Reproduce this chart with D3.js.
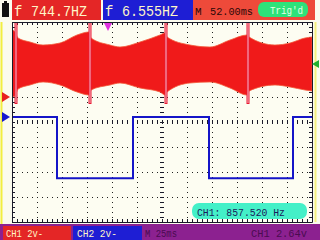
<!DOCTYPE html>
<html>
<head>
<meta charset="utf-8">
<script src="https://cdn.jsdelivr.net/npm/d3@7"></script>
<style>
  body { margin: 0; background: #fbfbee; }
  svg { display: block; }
  text { font-family: "Liberation Mono", monospace; }
</style>
</head>
<body>
<div class="chart-container"></div>
<script>
// CH1 envelope, time in ms from left edge, volts (2v/div)
const envTime  = [0, 3, 6, 18, 31, 48, 65, 77, 79, 98, 108, 128, 148, 153, 155, 178, 198, 218, 235, 237, 263, 278, 293, 300];
const envUpper = [5.36, 5.2, 4.72, 4.4, 4.16, 4.32, 4.96, 5.2, 4.72, 4.16, 4.0, 4.4, 4.96, 5.12, 4.8, 4.16, 4.0, 4.56, 4.96, 4.8, 4.16, 4.32, 4.72, 4.8];
const envLower = [0, 0.08, 0.64, 0.96, 1.2, 0.96, 0.4, 0.16, 0.56, 0.96, 1.12, 0.72, 0.4, 0.16, 0.4, 1.12, 1.2, 0.72, 0.16, 0.48, 0.96, 0.8, 0.56, 0.48];
// glitches in CH1
const spikeTime = [4, 78, 154, 236];
const spikeLow = -0.56, spikeHigh = 6.4;

// CH2 square wave
const ch2Time  = [0, 45, 121, 197, 281, 300];
const ch2Level = [0, -4.9, 0, -4.9, 0, 0];

// readouts
const ch1Freq = "744.7HZ", ch2Freq = "6.555HZ";
const trigDelay = "52.00ms", timeBase = "25ms";
const trigLevel = 2.64, trigTime = 96;
const ch1Measure = "CH1: 857.520 Hz";
const channelLabels = ["CH1 2v-", "CH2 2v-"];
const ch1Pos = 1, ch2Pos = 0.2; // ground offsets in divisions

const W = 320, H = 240;
const grid = { left: 12, top: 22, right: 312, bottom: 222 };

const svg = d3.select(".chart-container")
  .append("svg")
    .attr("width", W)
    .attr("height", H);

const x = d3.scaleLinear().domain([0, 300]).range([grid.left, grid.right]);
const yDiv = d3.scaleLinear().domain([-4, 4]).range([grid.bottom, grid.top]);
const ch1Y = d3.scaleLinear().domain([-8 - 2 * ch1Pos, 8 - 2 * ch1Pos]).range([grid.bottom, grid.top]);
const ch2Y = d3.scaleLinear().domain([-8 - 2 * ch2Pos, 8 - 2 * ch2Pos]).range([grid.bottom, grid.top]);

// side rails
svg.append("line").attr("x1", 1.5).attr("x2", 1.5).attr("y1", 22).attr("y2", 224)
  .attr("stroke", "#f2ee40").attr("stroke-width", 2);
svg.append("line").attr("x1", 315.5).attr("x2", 315.5).attr("y1", 22).attr("y2", 222)
  .attr("stroke", "#f4f080").attr("stroke-width", 2);

// plot area
svg.append("rect")
  .attr("x", grid.left).attr("y", grid.top)
  .attr("width", grid.right - grid.left).attr("height", grid.bottom - grid.top)
  .attr("fill", "#fdfdf2");

const gGrid = svg.append("g").attr("stroke", "#222").attr("stroke-width", 1);
// dotted division lines
gGrid.selectAll(".vdot")
  .data(d3.range(25, 300, 25).filter(d => d !== 150))
  .join("line")
    .attr("x1", d => Math.round(x(d)) + 0.5).attr("x2", d => Math.round(x(d)) + 0.5)
    .attr("y1", grid.top).attr("y2", grid.bottom)
    .attr("stroke-dasharray", "1,4");
gGrid.selectAll(".hdot")
  .data([-3, -2, -1, 1, 2, 3])
  .join("line")
    .attr("y1", d => Math.round(yDiv(d)) + 0.5).attr("y2", d => Math.round(yDiv(d)) + 0.5)
    .attr("x1", grid.left).attr("x2", grid.right)
    .attr("stroke-dasharray", "1,4");

// border ticks via axes
const tickX = d3.range(0, 301, 5);
const tickY = d3.range(-4, 4.001, 0.2);
function styleAxis(g) {
  g.selectAll("path").attr("stroke", "#1a1a2a");
  g.selectAll("line").attr("stroke", "#1a1a2a");
}
svg.append("g").attr("transform", `translate(0,${grid.top})`)
  .call(d3.axisBottom(x).tickValues(tickX).tickSize(3).tickSizeOuter(0).tickFormat(""))
  .call(styleAxis);
svg.append("g").attr("transform", `translate(0,${grid.bottom})`)
  .call(d3.axisTop(x).tickValues(tickX).tickSize(3).tickSizeOuter(0).tickFormat(""))
  .call(styleAxis);
svg.append("g").attr("transform", `translate(${grid.left},0)`)
  .call(d3.axisRight(yDiv).tickValues(tickY).tickSize(3).tickSizeOuter(0).tickFormat(""))
  .call(styleAxis);
svg.append("g").attr("transform", `translate(${grid.right},0)`)
  .call(d3.axisLeft(yDiv).tickValues(tickY).tickSize(3).tickSizeOuter(0).tickFormat(""))
  .call(styleAxis);

// center cross with ticks
svg.append("g").attr("transform", `translate(0,${yDiv(0) - 2})`)
  .call(d3.axisBottom(x).tickValues(tickX).tickSize(4).tickSizeOuter(0).tickFormat(""))
  .call(g => g.select(".domain").remove())
  .call(styleAxis);
svg.append("g").attr("transform", `translate(${x(150) - 2},0)`)
  .call(d3.axisRight(yDiv).tickValues(tickY).tickSize(4).tickSizeOuter(0).tickFormat(""))
  .call(g => g.select(".domain").remove())
  .call(styleAxis);
gGrid.append("line")
  .attr("x1", grid.left).attr("x2", grid.right)
  .attr("y1", yDiv(0) + 0.5).attr("y2", yDiv(0) + 0.5)
  .attr("stroke-dasharray", "1,4");
gGrid.append("line")
  .attr("y1", grid.top).attr("y2", grid.bottom)
  .attr("x1", x(150) + 0.5).attr("x2", x(150) + 0.5)
  .attr("stroke-dasharray", "1,4");

// clip traces to screen
svg.append("clipPath").attr("id", "screen")
  .append("rect")
    .attr("x", grid.left + 1).attr("y", grid.top + 1)
    .attr("width", grid.right - grid.left - 1).attr("height", grid.bottom - grid.top - 1);

const traces = svg.append("g").attr("clip-path", "url(#screen)");

// CH1 trace (dense carrier drawn as filled envelope)
const env = envTime.map((t, i) => ({ t, hi: envUpper[i], lo: envLower[i] }));
traces.append("path")
  .datum(env)
  .attr("fill", "#f01a1a")
  .attr("stroke", "#f25a3a")
  .attr("stroke-width", 0.8)
  .attr("d", d3.area()
    .x(d => x(d.t))
    .y0(d => ch1Y(d.lo))
    .y1(d => ch1Y(d.hi))
    .curve(d3.curveMonotoneX));

traces.selectAll(".spike")
  .data(spikeTime)
  .join("line")
    .attr("x1", d => x(d)).attr("x2", d => x(d))
    .attr("y1", ch1Y(spikeHigh)).attr("y2", ch1Y(spikeLow))
    .attr("stroke", "#e81830").attr("stroke-width", 3);
traces.selectAll(".spikeCore")
  .data(spikeTime)
  .join("line")
    .attr("x1", d => x(d)).attr("x2", d => x(d))
    .attr("y1", ch1Y(spikeHigh)).attr("y2", ch1Y(spikeLow) - 1)
    .attr("stroke", "#f8b8c8").attr("stroke-width", 1);

// CH2 trace
const sq = ch2Time.map((t, i) => ({ t, v: ch2Level[i] }));
traces.append("path")
  .datum(sq)
  .attr("fill", "none")
  .attr("stroke", "#1414c8")
  .attr("stroke-width", 2)
  .attr("d", d3.line()
    .x(d => x(d.t))
    .y(d => ch2Y(d.v))
    .curve(d3.curveStepAfter));

// ground markers on the left
const gy1 = ch1Y(0), gy2 = ch2Y(0);
svg.append("path").attr("d", `M2,${gy1 - 5}L10,${gy1}L2,${gy1 + 5}Z`).attr("fill", "#e82020");
svg.append("path").attr("d", `M2,${gy2 - 5}L10,${gy2}L2,${gy2 + 5}Z`).attr("fill", "#1818d0");
// trigger level marker on the right
const ty = ch1Y(trigLevel);
svg.append("path").attr("d", `M319,${ty - 4}L312,${ty}L319,${ty + 4}Z`).attr("fill", "#20b030");
// trigger position marker on top
const tx = x(trigTime);
svg.append("path").attr("d", `M${tx - 4},${grid.top + 1}L${tx + 4},${grid.top + 1}L${tx},${grid.top + 9}Z`).attr("fill", "#e030e0");

// top status bar
svg.append("rect").attr("x", 2).attr("y", 3).attr("width", 7).attr("height", 14).attr("fill", "#111");
svg.append("rect").attr("x", 4).attr("y", 1).attr("width", 3).attr("height", 2).attr("fill", "#111");

svg.append("rect").attr("x", 12).attr("y", 0).attr("width", 89).attr("height", 20).attr("fill", "#e42626");
svg.append("rect").attr("x", 103).attr("y", 0).attr("width", 90).attr("height", 20).attr("fill", "#1e1ed4");
svg.append("rect").attr("x", 193).attr("y", 0).attr("width", 122).attr("height", 20).attr("fill", "#ee4a3a");

const topText = [
  { s: "f", x: 14, len: null, fill: "#fff6c8" },
  { s: ch1Freq, x: 31, len: 56, fill: "#fff6c8" },
  { s: "f", x: 105, len: null, fill: "#fff6c8" },
  { s: ch2Freq, x: 122, len: 56, fill: "#fff6c8" }
];
svg.selectAll(".topText")
  .data(topText)
  .join("text")
    .attr("x", d => d.x).attr("y", 16)
    .attr("font-size", 14)
    .attr("fill", d => d.fill)
    .each(function(d) { if (d.len) d3.select(this).attr("textLength", d.len).attr("lengthAdjust", "spacingAndGlyphs"); })
    .text(d => d.s);

svg.append("text").attr("x", 195).attr("y", 15).attr("font-size", 11).attr("fill", "#2a0808").text("M");
svg.append("text").attr("x", 210).attr("y", 15).attr("font-size", 11).attr("fill", "#2a0808")
  .attr("textLength", 43).attr("lengthAdjust", "spacingAndGlyphs").text(trigDelay);

svg.append("rect").attr("x", 258).attr("y", 2).attr("width", 50).attr("height", 15).attr("rx", 6).attr("fill", "#2ee27a");
svg.append("text").attr("x", 270).attr("y", 14).attr("font-size", 11).attr("fill", "#e6ffe6")
  .attr("textLength", 33).attr("lengthAdjust", "spacingAndGlyphs").text("Trig'd");

// measurement readout
svg.append("rect").attr("x", 192).attr("y", 203).attr("width", 115).attr("height", 16).attr("rx", 7).attr("fill", "#44f0c8");
svg.append("text").attr("x", 197).attr("y", 216).attr("font-size", 11).attr("fill", "#1a1a5a")
  .attr("textLength", 88).attr("lengthAdjust", "spacingAndGlyphs").text(ch1Measure);

// bottom status bar
svg.append("rect").attr("x", 0).attr("y", 224).attr("width", W).attr("height", 16).attr("fill", "#8c2190");
svg.append("rect").attr("x", 3).attr("y", 226).attr("width", 68).attr("height", 14).attr("fill", "#e42626");
svg.append("rect").attr("x", 73).attr("y", 226).attr("width", 69).attr("height", 14).attr("fill", "#1e1ed4");

const bottomText = [
  { s: channelLabels[0], x: 6, len: 37, fill: "#fff6c8" },
  { s: channelLabels[1], x: 77, len: 40, fill: "#fff6c8" },
  { s: "M " + timeBase, x: 145, len: 32, fill: "#4a0c50" },
  { s: "CH1 " + trigLevel.toFixed(2) + "v", x: 251, len: 56, fill: "#4a0c50" }
];
svg.selectAll(".botText")
  .data(bottomText)
  .join("text")
    .attr("x", d => d.x).attr("y", 237)
    .attr("font-size", 11)
    .attr("fill", d => d.fill)
    .attr("textLength", d => d.len)
    .attr("lengthAdjust", "spacingAndGlyphs")
    .text(d => d.s);
</script>
</body>
</html>
